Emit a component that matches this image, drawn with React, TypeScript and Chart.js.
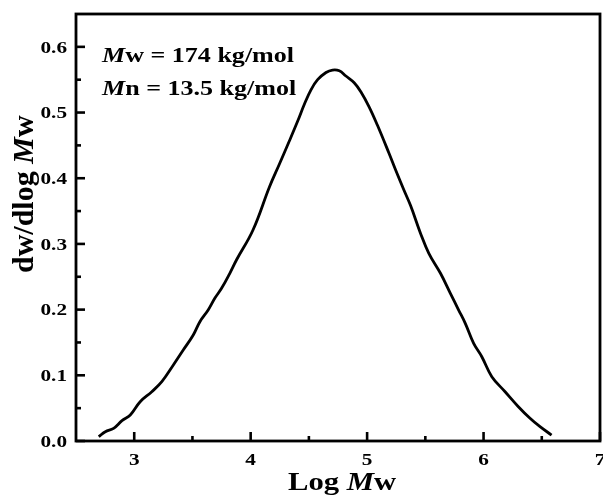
import React, { useEffect, useRef } from "react";
import { Chart, registerables } from "chart.js";

Chart.register(...registerables);

// ---- data ----
const logMw = [
  2.695, 2.752, 2.823, 2.895, 2.966, 3.051, 3.151, 3.237, 3.336, 3.421, 3.507,
  3.564, 3.635, 3.692, 3.75, 3.821, 3.878, 4.02, 4.162, 4.248, 4.333, 4.404,
  4.462, 4.519, 4.575, 4.647, 4.703, 4.761, 4.818, 4.889, 4.946, 5.017, 5.088,
  5.188, 5.245, 5.316, 5.374, 5.459, 5.53, 5.63, 5.715, 5.786, 5.843, 5.915,
  5.985, 6.071, 6.185, 6.299, 6.399, 6.485, 6.584,
];
const dwdlogMw = [
  0.0065, 0.0142, 0.0193, 0.0309, 0.0396, 0.0598, 0.075, 0.0903, 0.1157,
  0.1385, 0.1613, 0.1816, 0.1994, 0.2172, 0.2324, 0.2553, 0.2755, 0.3212,
  0.3871, 0.422, 0.457, 0.487, 0.513, 0.535, 0.55, 0.561, 0.5647,
  0.5636, 0.5556, 0.5454, 0.5317, 0.5088, 0.481, 0.438, 0.4125, 0.382,
  0.358, 0.316, 0.2857, 0.2553, 0.2248, 0.1994, 0.1791, 0.1487, 0.1283,
  0.0979, 0.075, 0.0522, 0.0346, 0.0218, 0.0091,
];

const xMajorTicks = [3, 4, 5, 6, 7];
const xMinorTicks = [3.5, 4.5, 5.5, 6.5];
const xTickLabels = ["3", "4", "5", "6", "7"];
const yMajorTicks = [0, 0.1, 0.2, 0.3, 0.4, 0.5, 0.6];
const yMinorTicks = [0.05, 0.15, 0.25, 0.35, 0.45, 0.55];
const yTickLabels = ["0.0", "0.1", "0.2", "0.3", "0.4", "0.5", "0.6"];

type Seg = { text: string; italic?: boolean };
const annotationLines: Seg[][] = [
  [{ text: "M", italic: true }, { text: "w = 174 kg/mol" }],
  [{ text: "M", italic: true }, { text: "n = 13.5 kg/mol" }],
];
const xTitle: Seg[] = [{ text: "Log " }, { text: "M", italic: true }, { text: "w" }];
const yTitle: Seg[] = [{ text: "dw/dlog " }, { text: "M", italic: true }, { text: "w" }];

const FAMILY = '"Liberation Serif", "Times New Roman", serif';

function fontOf(size: number, italic?: boolean) {
  return `${italic ? "italic " : ""}bold ${size}px ${FAMILY}`;
}

function segWidth(ctx: CanvasRenderingContext2D, segs: Seg[], size: number) {
  let w = 0;
  for (const s of segs) {
    ctx.font = fontOf(size, s.italic);
    w += ctx.measureText(s.text).width;
  }
  return w;
}

function drawSegs(
  ctx: CanvasRenderingContext2D,
  segs: Seg[],
  x: number,
  y: number,
  size: number,
  sx: number,
  rotate = 0
) {
  ctx.save();
  ctx.translate(x, y);
  if (rotate) ctx.rotate(rotate);
  ctx.scale(sx, 1);
  ctx.fillStyle = "#000";
  ctx.textBaseline = "alphabetic";
  ctx.textAlign = "left";
  let cx = 0;
  for (const s of segs) {
    ctx.font = fontOf(size, s.italic);
    ctx.fillText(s.text, cx, 0);
    cx += ctx.measureText(s.text).width;
  }
  ctx.restore();
}

const framePlugin = {
  id: "frame",
  afterDatasetsDraw(chart: any) {
    const ctx: CanvasRenderingContext2D = chart.ctx;
    const xs = chart.scales.x;
    const ys = chart.scales.y;
    const { left, right, top, bottom } = chart.chartArea;
    ctx.save();
    ctx.strokeStyle = "#000";
    ctx.lineWidth = 2.8;
    ctx.lineJoin = "miter";
    ctx.strokeRect(left, top, right - left, bottom - top);

    ctx.lineWidth = 2.6;
    ctx.lineCap = "butt";
    const tick = (x1: number, y1: number, x2: number, y2: number) => {
      ctx.beginPath();
      ctx.moveTo(x1, y1);
      ctx.lineTo(x2, y2);
      ctx.stroke();
    };
    xMajorTicks.forEach((v) => {
      const px = xs.getPixelForValue(v);
      tick(px, bottom, px, bottom - 9);
    });
    xMinorTicks.forEach((v) => {
      const px = xs.getPixelForValue(v);
      tick(px, bottom, px, bottom - 5);
    });
    yMajorTicks.forEach((v) => {
      const py = ys.getPixelForValue(v);
      tick(left, py, left + 9, py);
    });
    yMinorTicks.forEach((v) => {
      const py = ys.getPixelForValue(v);
      tick(left, py, left + 5, py);
    });

    const tSize = 17;
    const tSx = 1.25;
    xMajorTicks.forEach((v, i) => {
      const px = xs.getPixelForValue(v);
      const w = segWidth(ctx, [{ text: xTickLabels[i] }], tSize) * tSx;
      drawSegs(ctx, [{ text: xTickLabels[i] }], px - w / 2, 465, tSize, tSx);
    });
    yMajorTicks.forEach((v, i) => {
      const py = ys.getPixelForValue(v);
      const w = segWidth(ctx, [{ text: yTickLabels[i] }], tSize) * tSx;
      drawSegs(ctx, [{ text: yTickLabels[i] }], 67 - w, py + 5.8, tSize, tSx);
    });

    drawSegs(ctx, annotationLines[0], 102, 62, 21, 1.24);
    drawSegs(ctx, annotationLines[1], 102, 95, 21, 1.24);

    drawSegs(ctx, xTitle, 288, 490, 26, 1.18);
    drawSegs(ctx, yTitle, 33, 273, 30, 1, -Math.PI / 2);
    ctx.restore();
  },
};

export default function App() {
  const ref = useRef<HTMLCanvasElement | null>(null);
  useEffect(() => {
    if (!ref.current) return;
    const chart = new Chart(ref.current, {
      type: "scatter",
      data: {
        datasets: [
          {
            data: logMw.map((x, i) => ({ x, y: dwdlogMw[i] })),
            showLine: true,
            borderColor: "#000",
            borderWidth: 2.8,
            pointRadius: 0,
            tension: 0.4,
            fill: false,
          },
        ],
      },
      options: {
        animation: false,
        responsive: false,
        devicePixelRatio: 1,
        layout: { padding: { left: 76, right: 3, top: 14, bottom: 55 } },
        plugins: {
          legend: { display: false },
          tooltip: { enabled: false },
        },
        scales: {
          x: { type: "linear", min: 2.5, max: 7, display: false },
          y: { type: "linear", min: 0, max: 0.65, display: false },
        },
      },
      plugins: [framePlugin],
    });
    return () => chart.destroy();
  }, []);
  return (
    <div style={{ position: "absolute", left: 0, top: 0, width: 603, height: 496, background: "#fff" }}>
      <canvas ref={ref} width={603} height={496} style={{ display: "block" }} />
    </div>
  );
}
